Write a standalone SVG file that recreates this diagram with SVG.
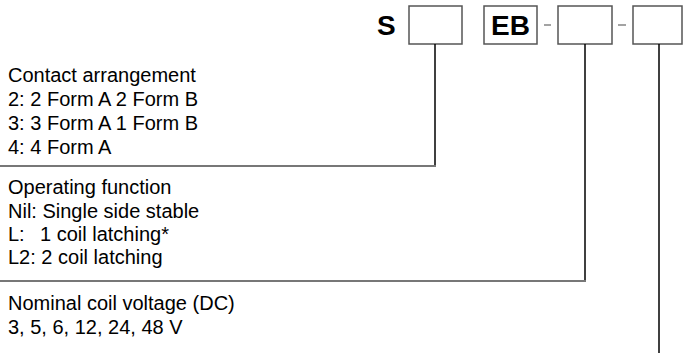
<svg xmlns="http://www.w3.org/2000/svg" width="683" height="353" viewBox="0 0 683 353">
<style>
.box{fill:#fff;stroke:#555;stroke-width:1.5}
.code{font-family:"Liberation Sans",Arial,sans-serif;font-weight:bold;font-size:28px;fill:#000}
.t{font-family:"Liberation Sans",Arial,sans-serif;font-size:20px;fill:#000}
.v{fill:none;stroke:#000;stroke-width:1.5}
.h{fill:none;stroke:#777;stroke-width:2}
.dash{stroke:#666;stroke-width:1.2}
</style>
<rect width="683" height="353" fill="#fff"/>
<g id="code">
<text class="code" x="377" y="35">S</text>
<rect id="box1" class="box" x="409" y="6" width="53" height="38"/>
<g id="eb"><rect class="box" x="484" y="6" width="53" height="38"/><text class="code" x="510.5" y="35" text-anchor="middle">EB</text></g>
<line class="dash" x1="544" y1="25" x2="551" y2="25"/>
<rect id="box3" class="box" x="558" y="6" width="54" height="38"/>
<line class="dash" x1="618" y1="25" x2="626" y2="25"/>
<rect id="box4" class="box" x="633" y="6" width="49" height="38"/>
</g>
<g id="connectors">
<path class="v" d="M435 44V166"/>
<path class="h" d="M0 166H436"/>
<path class="v" d="M585 44V281"/>
<path class="h" d="M0 281H586"/>
<path class="v" d="M659 44V353"/>
</g>
<g id="contact">
<text class="t" x="8" y="82">Contact arrangement</text>
<text class="t" x="8" y="106">2: 2 Form A 2 Form B</text>
<text class="t" x="8" y="130">3: 3 Form A 1 Form B</text>
<text class="t" x="8" y="154">4: 4 Form A</text>
</g>
<g id="operating">
<text class="t" x="8" y="194">Operating function</text>
<text class="t" x="8" y="218">Nil: Single side stable</text>
<text class="t" x="8" y="241">L:<tspan x="40">1 coil latching*</tspan></text>
<text class="t" x="8" y="264">L2: 2 coil latching</text>
</g>
<g id="voltage">
<text class="t" x="8" y="310">Nominal coil voltage (DC)</text>
<text class="t" x="8" y="334">3, 5, 6, 12, 24, 48 V</text>
</g>
</svg>
